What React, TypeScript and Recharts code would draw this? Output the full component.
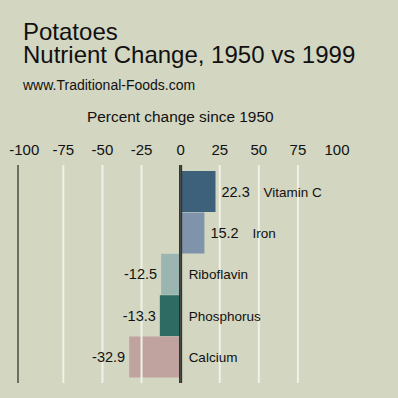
import React from "react";
import { BarChart, Bar, XAxis, YAxis, Cell, ReferenceLine, LabelList } from "recharts";

const nutrients = ["Vitamin C", "Iron", "Riboflavin", "Phosphorus", "Calcium"];
const changes = [22.3, 15.2, -12.5, -13.3, -32.9];
const xTicks = [-100, -75, -50, -25, 0, 25, 50, 75, 100];
const gridValues = [-75, -50, -25, 25, 50, 75];

const barColors = ["#3e617b", "#7f93ab", "#9bb6b0", "#2e6b62", "#c0a39e"];

const data = nutrients.map((name, i) => ({ name, value: changes[i] }));

const FONT = "'Liberation Sans', Arial, sans-serif";
const BG = "#d3d6c1";

function BarLabel(props: any) {
    const { x, y, width, height, index } = props;
    const v = changes[index];
    const left = Math.min(x, x + width);
    const right = Math.max(x, x + width);
    const cy = y + height / 2 + 5;
    if (v >= 0) {
        return (
            <g>
                <text x={right + 6} y={cy} fontSize={14.5} fill="#111" fontFamily={FONT}>
                    {v.toFixed(1)}
                </text>
                <text x={right + 48} y={cy} fontSize={13.5} fill="#111" fontFamily={FONT}>
                    {nutrients[index]}
                </text>
            </g>
        );
    }
    return (
        <g>
            <text x={left - 4} y={cy} fontSize={14.5} fill="#111" fontFamily={FONT} textAnchor="end">
                {v.toFixed(1)}
            </text>
            <text x={right + 8} y={cy} fontSize={13.5} fill="#111" fontFamily={FONT}>
                {nutrients[index]}
            </text>
        </g>
    );
}

export default function App() {
    return (
        <div style={{ position: "fixed", left: 0, top: 0, width: 398, height: 398, background: BG }}>
            <svg width={398} height={398} style={{ position: "absolute", left: 0, top: 0 }}>
                <text x={23} y={40} fontSize={24} fontFamily={FONT} fill="#111">Potatoes</text>
                <text x={23} y={63} fontSize={24} fontFamily={FONT} fill="#111">Nutrient Change, 1950 vs 1999</text>
                <text x={23} y={90} fontSize={14} fontFamily={FONT} fill="#111">www.Traditional-Foods.com</text>
                <text x={87} y={122} fontSize={15.4} fontFamily={FONT} fill="#111">Percent change since 1950</text>
            </svg>
            <div style={{ position: "absolute", left: 0, top: 0 }}>
                <BarChart
                    width={398}
                    height={398}
                    data={data}
                    layout="vertical"
                    barCategoryGap={0}
                    margin={{ top: 135, right: 61, bottom: 15, left: 16 }}
                >
                    <XAxis
                        type="number"
                        orientation="top"
                        domain={[-104, 100]}
                        ticks={xTicks}
                        height={30}
                        axisLine={false}
                        tickLine={false}
                        tickSize={0}
                        tickMargin={10}
                        allowDataOverflow
                        tick={{ fontSize: 15, fill: "#111", fontFamily: FONT }}
                    />
                    <YAxis
                        type="category"
                        dataKey="name"
                        width={2}
                        tick={false}
                        tickLine={false}
                        axisLine={{ stroke: "#6e6e62", strokeWidth: 2 }}
                        padding={{ top: 6, bottom: 5 }}
                    />
                    {gridValues.map((g) => (
                        <ReferenceLine key={g} x={g} stroke="#f1f1e8" strokeWidth={2} />
                    ))}
                    <ReferenceLine x={0} stroke="#111" strokeWidth={3} />
                    <Bar dataKey="value" isAnimationActive={false}>
                        {data.map((d, i) => (
                            <Cell key={d.name} fill={barColors[i]} />
                        ))}
                        <LabelList dataKey="value" content={BarLabel} />
                    </Bar>
                    <ReferenceLine x={0} stroke="#4a4a46" strokeWidth={2} />
                </BarChart>
            </div>
        </div>
    );
}
